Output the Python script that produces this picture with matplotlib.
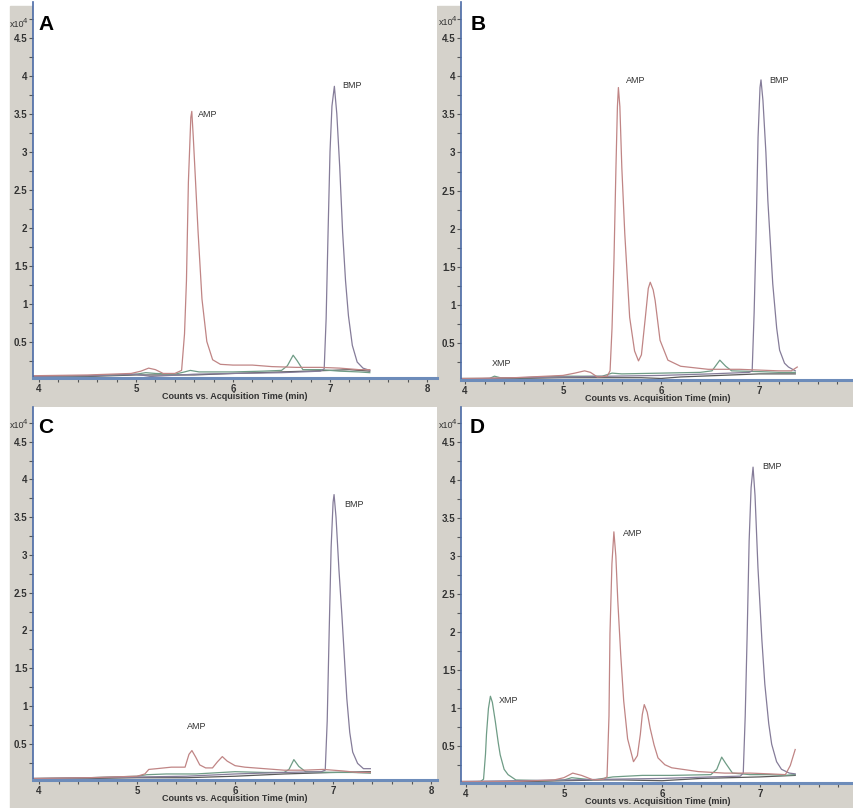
import numpy as np
import matplotlib.pyplot as plt
from matplotlib.patches import Rectangle
from matplotlib.ticker import MultipleLocator, FixedLocator, FixedFormatter

plt.rcParams['font.family'] = ['Liberation Sans Narrow', 'Liberation Sans', 'DejaVu Sans']

# ---- chromatogram traces: (time in min, counts x10^4) ----
# panel A
A_AMP = [(3.94, 0.05), (4.5, 0.06), (4.95, 0.08), (5.05, 0.11), (5.13, 0.15), (5.2, 0.13), (5.28, 0.08),
         (5.4, 0.08), (5.47, 0.12), (5.5, 0.6), (5.52, 1.3), (5.54, 2.6), (5.565, 3.45), (5.575, 3.53),
         (5.59, 3.2), (5.61, 2.7), (5.64, 1.94), (5.68, 1.06), (5.73, 0.5), (5.79, 0.26), (5.87, 0.2),
         (6.0, 0.19), (6.2, 0.19), (6.4, 0.17), (6.65, 0.16), (6.9, 0.16), (7.1, 0.15), (7.3, 0.13), (7.41, 0.13)]
A_BMP = [(3.94, 0.04), (4.5, 0.05), (5.0, 0.07), (5.15, 0.04), (5.3, 0.05), (5.6, 0.07), (6.0, 0.08),
         (6.5, 0.09), (6.9, 0.11), (6.94, 0.14), (6.96, 0.8), (6.98, 1.94), (7.0, 3.0), (7.02, 3.6),
         (7.045, 3.86), (7.07, 3.5), (7.1, 2.8), (7.13, 1.94), (7.16, 1.3), (7.19, 0.84), (7.23, 0.45),
         (7.28, 0.23), (7.34, 0.15), (7.41, 0.12)]
A_XMP = [(3.94, 0.04), (4.5, 0.05), (5.0, 0.07), (5.1, 0.09), (5.2, 0.08), (5.4, 0.07), (5.5, 0.1),
         (5.56, 0.12), (5.65, 0.1), (6.0, 0.1), (6.3, 0.11), (6.5, 0.12), (6.56, 0.18), (6.62, 0.32),
         (6.66, 0.25), (6.72, 0.13), (6.9, 0.13), (7.1, 0.11), (7.3, 0.1), (7.41, 0.09)]
A_BASE = [(3.94, 0.03), (4.5, 0.04), (5.0, 0.06), (5.3, 0.06), (5.6, 0.06), (6.0, 0.08), (6.5, 0.1),
          (7.0, 0.12), (7.2, 0.13), (7.41, 0.11)]

# panel B
B_AMP = [(3.96, 0.04), (4.5, 0.05), (5.0, 0.08), (5.12, 0.11), (5.22, 0.14), (5.28, 0.12), (5.35, 0.06),
         (5.45, 0.07), (5.48, 0.14), (5.5, 0.7), (5.52, 1.6), (5.54, 2.8), (5.555, 3.6), (5.565, 3.85),
         (5.58, 3.6), (5.6, 2.8), (5.63, 1.94), (5.68, 0.84), (5.73, 0.4), (5.77, 0.27), (5.8, 0.35),
         (5.84, 0.84), (5.87, 1.22), (5.89, 1.30), (5.92, 1.2), (5.94, 1.06), (5.99, 0.54), (6.07, 0.28),
         (6.2, 0.2), (6.48, 0.16), (6.8, 0.16), (7.0, 0.15), (7.2, 0.14), (7.33, 0.14), (7.39, 0.19)]
B_BMP = [(3.96, 0.03), (4.5, 0.05), (5.0, 0.06), (5.5, 0.07), (6.0, 0.08), (6.5, 0.1), (6.9, 0.12),
         (6.93, 0.14), (6.95, 0.9), (6.97, 1.94), (6.99, 3.2), (7.01, 3.85), (7.02, 3.95), (7.04, 3.68),
         (7.07, 3.0), (7.09, 2.37), (7.14, 1.28), (7.18, 0.7), (7.21, 0.41), (7.26, 0.24), (7.3, 0.19),
         (7.37, 0.14)]
B_XMP = [(3.96, 0.04), (4.25, 0.04), (4.3, 0.07), (4.36, 0.05), (4.6, 0.05), (5.0, 0.07), (5.4, 0.07),
         (5.5, 0.11), (5.6, 0.1), (6.0, 0.11), (6.4, 0.12), (6.52, 0.14), (6.6, 0.28), (6.66, 0.2),
         (6.72, 0.14), (7.0, 0.13), (7.2, 0.12), (7.37, 0.12)]
B_BASE = [(3.96, 0.03), (4.5, 0.04), (5.0, 0.05), (5.5, 0.05), (5.8, 0.05), (6.0, 0.04), (6.2, 0.06),
          (6.6, 0.08), (7.0, 0.1), (7.37, 0.1)]

# panel C
C_AMP = [(3.94, 0.04), (4.5, 0.05), (5.0, 0.07), (5.08, 0.1), (5.12, 0.16), (5.2, 0.17), (5.35, 0.19),
         (5.49, 0.19), (5.53, 0.36), (5.56, 0.41), (5.6, 0.32), (5.64, 0.22), (5.7, 0.18), (5.77, 0.18),
         (5.82, 0.26), (5.87, 0.33), (5.92, 0.27), (6.0, 0.21), (6.1, 0.19), (6.3, 0.17), (6.5, 0.15),
         (6.7, 0.15), (6.9, 0.16), (7.1, 0.14), (7.25, 0.12), (7.38, 0.12)]
C_BMP = [(3.94, 0.04), (4.5, 0.05), (5.0, 0.06), (5.5, 0.07), (6.0, 0.1), (6.5, 0.12), (6.88, 0.13),
         (6.92, 0.15), (6.94, 0.8), (6.96, 1.98), (6.98, 3.1), (7.0, 3.7), (7.01, 3.8), (7.03, 3.5),
         (7.06, 2.8), (7.09, 2.2), (7.14, 1.1), (7.17, 0.65), (7.2, 0.39), (7.25, 0.24), (7.31, 0.17),
         (7.38, 0.17)]
C_XMP = [(3.94, 0.04), (4.5, 0.05), (5.0, 0.07), (5.1, 0.09), (5.3, 0.1), (5.6, 0.1), (6.0, 0.13),
         (6.3, 0.12), (6.5, 0.12), (6.55, 0.16), (6.6, 0.29), (6.65, 0.2), (6.72, 0.13), (7.0, 0.12),
         (7.2, 0.12), (7.38, 0.11)]
C_BASE = [(3.94, 0.03), (4.5, 0.04), (5.0, 0.05), (5.5, 0.05), (6.0, 0.07), (6.5, 0.1), (7.0, 0.12),
          (7.38, 0.13)]

# panel D
D_AMP = [(3.95, 0.04), (4.5, 0.04), (4.9, 0.06), (5.0, 0.09), (5.09, 0.15), (5.18, 0.12), (5.3, 0.06),
         (5.4, 0.07), (5.44, 0.1), (5.46, 0.9), (5.47, 1.98), (5.49, 2.9), (5.51, 3.32), (5.53, 3.0),
         (5.55, 2.41), (5.58, 1.7), (5.61, 1.1), (5.65, 0.6), (5.71, 0.3), (5.75, 0.38), (5.78, 0.66),
         (5.8, 0.92), (5.82, 1.05), (5.85, 0.95), (5.88, 0.74), (5.92, 0.52), (5.96, 0.35), (6.03, 0.26),
         (6.1, 0.22), (6.37, 0.17), (6.64, 0.15), (6.9, 0.15), (7.1, 0.14), (7.26, 0.13), (7.31, 0.25),
         (7.36, 0.46)]
D_BMP = [(3.95, 0.04), (4.5, 0.05), (5.0, 0.06), (5.5, 0.07), (6.0, 0.08), (6.5, 0.1), (6.8, 0.11),
         (6.83, 0.15), (6.85, 0.9), (6.87, 1.98), (6.89, 3.2), (6.91, 3.9), (6.93, 4.17), (6.95, 3.8),
         (6.98, 2.85), (7.02, 1.9), (7.05, 1.32), (7.09, 0.8), (7.12, 0.53), (7.17, 0.3), (7.22, 0.2),
         (7.3, 0.15), (7.36, 0.14)]
D_XMP = [(3.95, 0.03), (4.15, 0.04), (4.18, 0.07), (4.2, 0.4), (4.21, 0.66), (4.23, 1.0), (4.25, 1.16),
         (4.27, 1.08), (4.3, 0.83), (4.33, 0.55), (4.35, 0.39), (4.39, 0.2), (4.43, 0.13), (4.51, 0.06),
         (4.8, 0.05), (5.0, 0.06), (5.08, 0.09), (5.15, 0.08), (5.3, 0.06), (5.5, 0.1), (5.8, 0.12),
         (6.1, 0.12), (6.5, 0.13), (6.56, 0.2), (6.61, 0.36), (6.65, 0.28), (6.72, 0.15), (6.9, 0.13),
         (7.1, 0.13), (7.25, 0.12), (7.36, 0.13)]
D_BASE = [(3.95, 0.03), (4.5, 0.04), (4.7, 0.04), (5.0, 0.05), (5.4, 0.06), (5.6, 0.06), (6.0, 0.05),
          (6.4, 0.08), (7.0, 0.1), (7.36, 0.12)]

# peak labels: (text, time, counts)
A_LABELS = [('AMP', 5.74, 3.49), ('BMP', 7.23, 3.87)]
B_LABELS = [('XMP', 4.37, 0.24), ('AMP', 5.74, 3.94), ('BMP', 7.2, 3.94)]
C_LABELS = [('AMP', 5.61, 0.73), ('BMP', 7.21, 3.67)]
D_LABELS = [('XMP', 4.44, 1.11), ('AMP', 5.70, 3.30), ('BMP', 7.12, 4.18)]

Y_TICKS = [0.5, 1, 1.5, 2, 2.5, 3, 3.5, 4, 4.5]
X_TICKS = [4, 5, 6, 7, 8]

W, H = 854, 808
GRAY = '#d5d2cb'
C_AMP_LINE = '#c08585'
C_BMP_LINE = '#857c99'
C_XMP_LINE = '#6f9c86'
C_BASE_LINE = '#5a5a5a'

fig = plt.figure(figsize=(W / 100, H / 100), dpi=100)
fig.patch.set_facecolor('white')


def box(l, t, r, b):
    # pixel box -> figure fraction
    return [l / W, 1 - b / H, (r - l) / W, (b - t) / H]


# gray instrument-window frames behind each column
fig.patches.append(Rectangle((10 / W, 0), (437 - 10) / W, 1 - 6 / H,
                             transform=fig.transFigure, color=GRAY, zorder=-5))
fig.patches.append(Rectangle((438 / W, 0), (W - 438) / W, 1 - 6 / H,
                             transform=fig.transFigure, color=GRAY, zorder=-5))

panels = [
    ('A', box(33, 2, 437, 378), (3.938, 8.103), (0.02, 4.97), [A_AMP, A_BMP, A_XMP, A_BASE], A_LABELS,
     (38, 30), (10, 27)),
    ('B', box(461, 2, 854, 380), (3.959, 7.969), (0.02, 4.97), [B_AMP, B_BMP, B_XMP, B_BASE], B_LABELS,
     (471, 30), (439, 25)),
    ('C', box(33, 407, 437, 780), (3.939, 8.06), (0.02, 4.96), [C_AMP, C_BMP, C_XMP, C_BASE], C_LABELS,
     (38, 433), (10, 428)),
    ('D', box(461, 407, 854, 783), (3.95, 7.96), (0.02, 4.96), [D_AMP, D_BMP, D_XMP, D_BASE], D_LABELS,
     (470, 433), (439, 428)),
]

colors = [C_AMP_LINE, C_BMP_LINE, C_XMP_LINE, C_BASE_LINE]

for letter, rect, xl, yl, traces, labels, letter_pos, exp_pos in panels:
    ax = fig.add_axes(rect)
    ax.set_zorder(1)
    ax.set_facecolor('white')
    for tr, col in zip(traces[::-1], colors[::-1]):
        t = np.array([p[0] for p in tr])
        v = np.array([p[1] for p in tr])
        ax.plot(t, v, color=col, lw=0.9)
    for txt, tx, ty in labels:
        ax.text(tx, ty, txt, fontsize=6.5, color='#333333', ha='center', va='center')

    ax.set_xlim(*xl)
    ax.set_ylim(*yl)
    ax.xaxis.set_major_locator(FixedLocator(X_TICKS))
    ax.xaxis.set_minor_locator(MultipleLocator(0.2))
    ax.yaxis.set_major_locator(FixedLocator(Y_TICKS))
    ax.yaxis.set_major_formatter(FixedFormatter(['%g' % y for y in Y_TICKS]))
    ax.yaxis.set_minor_locator(MultipleLocator(0.25))
    ax.tick_params(axis='both', which='both', direction='out', length=3, width=0.8,
                   color='#555555', labelsize=7, pad=1, labelcolor='#333333')
    for lab in ax.get_xticklabels() + ax.get_yticklabels():
        lab.set_fontweight('bold')

    for s in ['top', 'right']:
        ax.spines[s].set_visible(False)
    ax.spines['left'].set_color('#4a6aa5')
    ax.spines['left'].set_linewidth(1.2)
    ax.spines['bottom'].set_color('#6d8cba')
    ax.spines['bottom'].set_linewidth(2.2)

    ax.set_xlabel('Counts vs. Acquisition Time (min)', fontsize=6.5, fontweight='bold',
                  color='#333333', labelpad=-1)

    fig.text(letter_pos[0] / W, 1 - letter_pos[1] / H, letter, fontsize=15, fontweight='bold',
             family=['Liberation Sans', 'DejaVu Sans'], color='black', va='baseline', ha='left',
             zorder=5)
    fig.text(exp_pos[0] / W, 1 - exp_pos[1] / H, 'x10', fontsize=6.5, color='#333333',
             va='baseline', ha='left', zorder=5)
    fig.text((exp_pos[0] + 13) / W, 1 - (exp_pos[1] - 4) / H, '4', fontsize=5.5, color='#333333',
             va='baseline', ha='left', zorder=5)

fig.savefig('out.png', dpi=100)
